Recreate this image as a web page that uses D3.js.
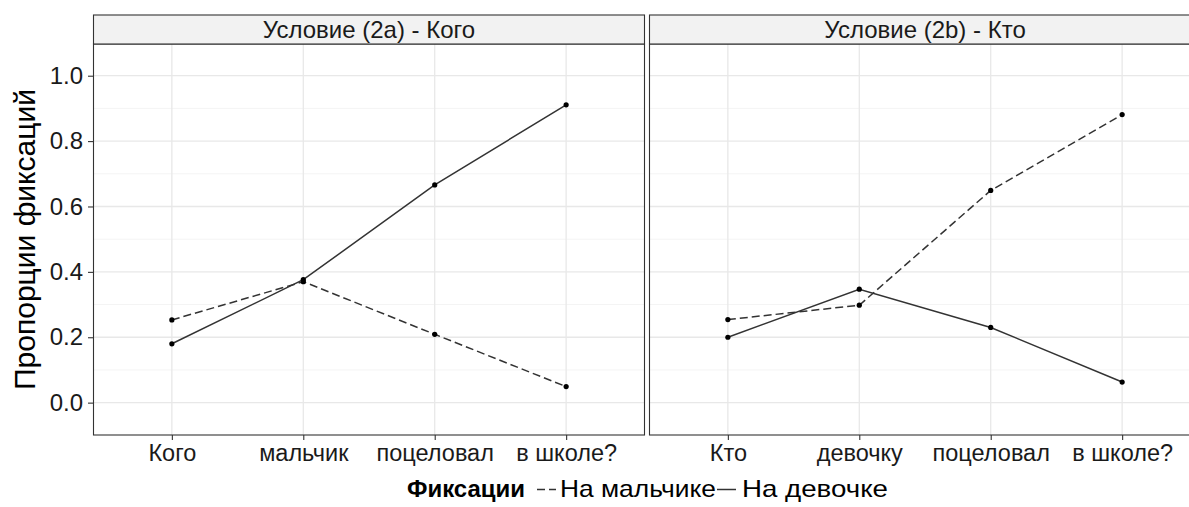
<!DOCTYPE html>
<html>
<head>
<meta charset="utf-8">
<script src="https://cdn.jsdelivr.net/npm/d3@7"></script>
<style>
  html, body { margin: 0; padding: 0; background: #fff; }
  svg { display: block; }
  text { font-family: "Liberation Sans", Arial, sans-serif; }
</style>
</head>
<body>
<svg id="chart" width="1189" height="507"></svg>
<script>
// ---- data ----
const conditions = ["Условие (2a) - Кого", "Условие (2b) - Кто"];
const wordsA = ["Кого", "мальчик", "поцеловал", "в школе?"];
const wordsB = ["Кто", "девочку", "поцеловал", "в школе?"];
const boyA  = [0.253, 0.370, 0.209, 0.049];
const girlA = [0.180, 0.376, 0.666, 0.911];
const boyB  = [0.254, 0.298, 0.649, 0.881];
const girlB = [0.200, 0.347, 0.230, 0.063];
const yTicks = [0.0, 0.2, 0.4, 0.6, 0.8, 1.0];
const yMinor = [0.1, 0.3, 0.5, 0.7, 0.9];
const seriesNames = ["На мальчике", "На девочке"];
const legendTitle = "Фиксации";
const yTitle = "Пропорции фиксаций";

// ---- layout ----
const svg = d3.select("#chart");
const panelW = 552, pTop = 44, pBottom = 435, stripTop = 15;
const panelLefts = [93, 649];
const y = d3.scaleLinear().domain([-0.099, 1.097]).range([pBottom, pTop]);
const dashes = ["8,4", null];
const FONT = "Liberation Sans, Arial, sans-serif";

const panels = [
  { title: conditions[0], words: wordsA, series: [boyA, girlA] },
  { title: conditions[1], words: wordsB, series: [boyB, girlB] }
];

panels.forEach((p, i) => {
  const left = panelLefts[i];
  const x = d3.scalePoint().domain(p.words).range([left, left + panelW]).padding(0.6);
  const g = svg.append("g");

  g.append("rect").attr("x", left).attr("y", pTop).attr("width", panelW).attr("height", pBottom - pTop)
    .attr("fill", "#fff");

  g.selectAll(".minor").data(yMinor).join("line")
    .attr("x1", left).attr("x2", left + panelW)
    .attr("y1", d => y(d)).attr("y2", d => y(d))
    .attr("stroke", "#f4f4f4").attr("stroke-width", 1);
  g.selectAll(".majh").data(yTicks).join("line")
    .attr("x1", left).attr("x2", left + panelW)
    .attr("y1", d => y(d)).attr("y2", d => y(d))
    .attr("stroke", "#e8e8e8").attr("stroke-width", 1.3);
  g.selectAll(".majv").data(p.words).join("line")
    .attr("x1", d => x(d)).attr("x2", d => x(d))
    .attr("y1", pTop).attr("y2", pBottom)
    .attr("stroke", "#e8e8e8").attr("stroke-width", 1.3);

  p.series.forEach((vals, si) => {
    const line = d3.line().x((d, k) => x(p.words[k])).y(d => y(d));
    g.append("path").datum(vals).attr("d", line)
      .attr("fill", "none").attr("stroke", "#333").attr("stroke-width", 1.5)
      .attr("stroke-dasharray", dashes[si]);
    g.selectAll(".pt" + si).data(vals).join("circle")
      .attr("cx", (d, k) => x(p.words[k])).attr("cy", d => y(d))
      .attr("r", 2.6).attr("fill", "#000");
  });

  g.append("rect").attr("x", left + 0.5).attr("y", pTop).attr("width", panelW - 1).attr("height", pBottom - pTop)
    .attr("fill", "none").attr("stroke", "#333").attr("stroke-width", 1.1);

  g.append("rect").attr("x", left + 0.5).attr("y", stripTop).attr("width", panelW - 1).attr("height", pTop - stripTop)
    .attr("fill", "#f2f2f2").attr("stroke", "#333").attr("stroke-width", 1.1);
  g.append("text").attr("x", left + panelW / 2).attr("y", pTop - 6)
    .attr("text-anchor", "middle").attr("font-size", 24).attr("fill", "#1a1a1a").text(p.title);

  const xa = g.append("g").attr("transform", `translate(0,${pBottom})`)
    .call(d3.axisBottom(x).tickSize(5).tickPadding(4));
  xa.select(".domain").remove();
  xa.selectAll(".tick line").attr("stroke", "#333").attr("stroke-width", 1.1);
  xa.selectAll(".tick text").attr("font-size", 23.5).attr("fill", "#1a1a1a").attr("font-family", FONT);

  if (i === 0) {
    const ya = g.append("g").attr("transform", `translate(${left},0)`)
      .call(d3.axisLeft(y).tickValues(yTicks).tickFormat(d3.format(".1f")).tickSize(5).tickPadding(5));
    ya.select(".domain").remove();
    ya.selectAll(".tick line").attr("stroke", "#333").attr("stroke-width", 1.1);
    ya.selectAll(".tick text").attr("font-size", 24).attr("fill", "#1a1a1a").attr("font-family", FONT);
  }
});

svg.append("text").attr("transform", `translate(35,${(pTop + pBottom) / 2}) rotate(-90)`)
  .attr("text-anchor", "middle").attr("font-size", 30).attr("fill", "#000").text(yTitle);

const lg = svg.append("g");
const ly = 497;
lg.append("text").attr("x", 407).attr("y", ly).attr("font-size", 23)
  .attr("font-weight", "bold").attr("fill", "#000")
  .attr("textLength", 118).attr("lengthAdjust", "spacingAndGlyphs").text(legendTitle);
const keyX = [537, 717];
const textX = [560, 742];
const textW = [156, 146];
seriesNames.forEach((name, si) => {
  lg.append("line").attr("x1", keyX[si]).attr("x2", keyX[si] + 19).attr("y1", ly - 7.5).attr("y2", ly - 7.5)
    .attr("stroke", "#333").attr("stroke-width", 1.5).attr("stroke-dasharray", si === 0 ? "8,4" : null);
  lg.append("text").attr("x", textX[si]).attr("y", ly).attr("font-size", 24)
    .attr("textLength", textW[si]).attr("lengthAdjust", "spacingAndGlyphs")
    .attr("fill", "#000").text(name);
});
</script>
</body>
</html>
